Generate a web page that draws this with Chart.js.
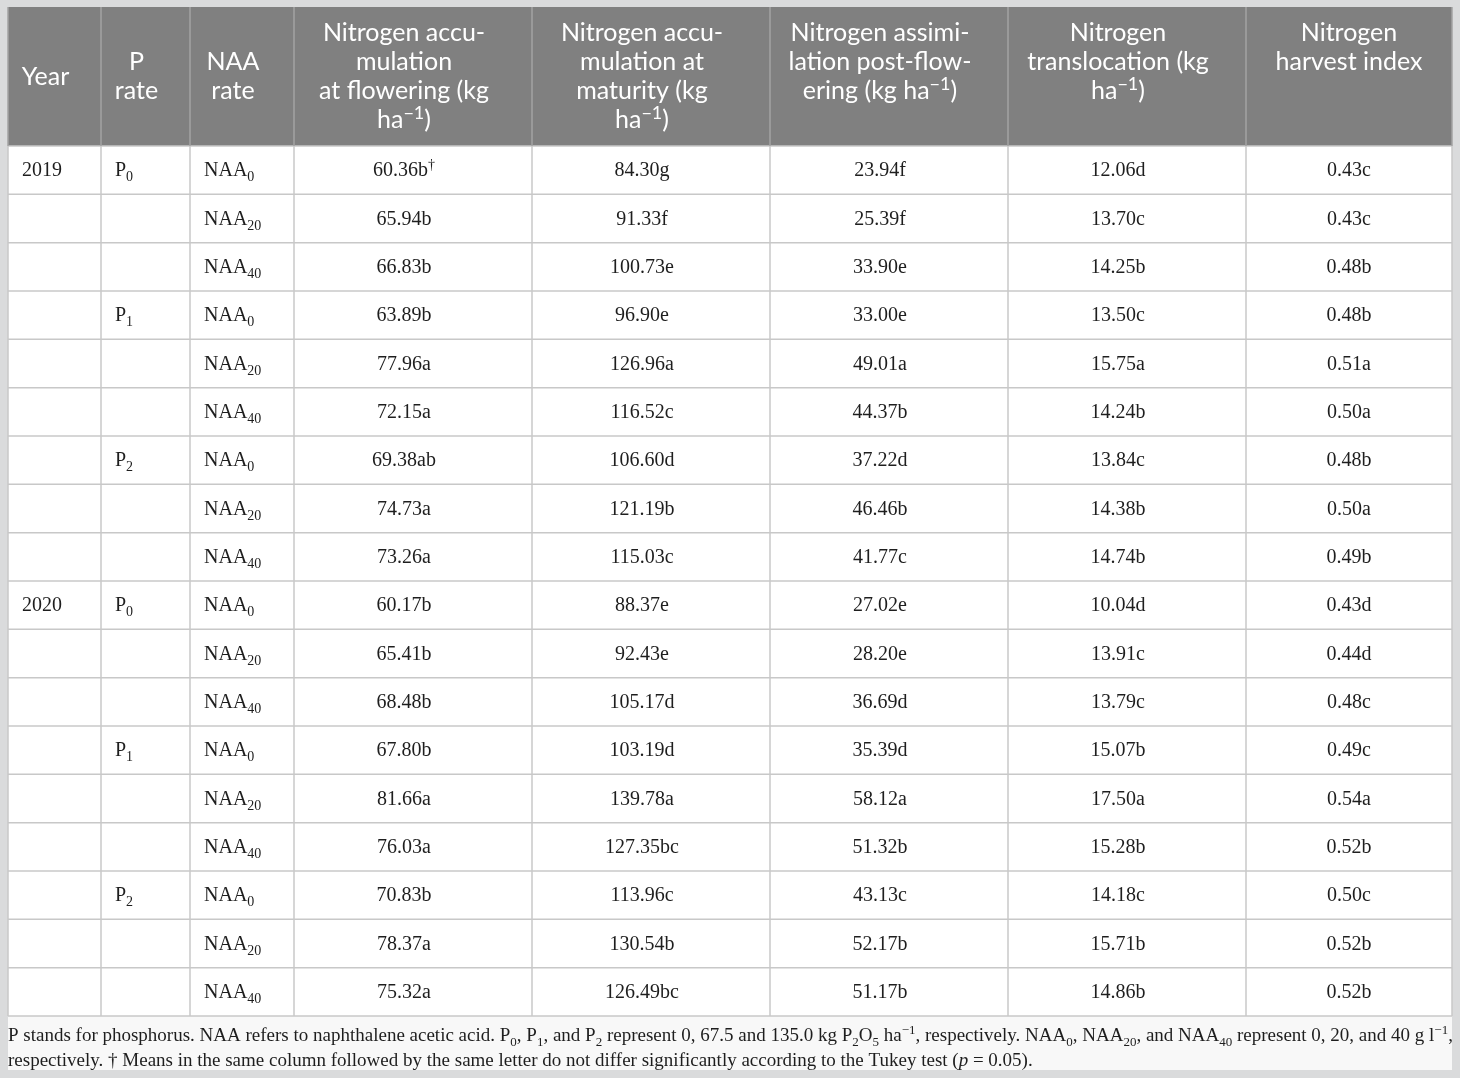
<!DOCTYPE html>
<html>
<head>
<meta charset="utf-8">
<script src="https://cdn.jsdelivr.net/npm/chart.js@4.4.1/dist/chart.umd.min.js"></script>
<style>
body { margin: 0; background: #dadbdc; }
#wrap { width: 1460px; height: 1078px; }
</style>
</head>
<body>
<div id="wrap"><canvas id="tbl" width="1460" height="1078"></canvas></div>
<script>
"use strict"

// row labels: every year has three P rates, every P rate has three NAA rates
let years = ["2019", "2020"];
let pRates = ["P_{0}", "P_{1}", "P_{2}"];
let naaRates = ["NAA_{0}", "NAA_{20}", "NAA_{40}"];

// column headings, one entry per printed line
let headings = [
    ["Year"],
    ["P", "rate"],
    ["NAA", "rate"],
    ["Nitrogen accu-", "mulation", "at flowering (kg", "ha^{\u22121})"],
    ["Nitrogen accu-", "mulation at", "maturity (kg", "ha^{\u22121})"],
    ["Nitrogen assimi-", "lation post-flow-", "ering (kg ha^{\u22121})"],
    ["Nitrogen", "translocation (kg", "ha^{\u22121})"],
    ["Nitrogen", "harvest index"]
];

// nitrogen accumulation at flowering (kg/ha)
let nFlowering = [60.36, 65.94, 66.83, 63.89, 77.96, 72.15, 69.38, 74.73, 73.26,
                  60.17, 65.41, 68.48, 67.80, 81.66, 76.03, 70.83, 78.37, 75.32];
let nFloweringSig = ["b^{\u2020}", "b", "b", "b", "a", "a", "ab", "a", "a",
                     "b", "b", "b", "b", "a", "a", "b", "a", "a"];

// nitrogen accumulation at maturity (kg/ha)
let nMaturity = [84.30, 91.33, 100.73, 96.90, 126.96, 116.52, 106.60, 121.19, 115.03,
                 88.37, 92.43, 105.17, 103.19, 139.78, 127.35, 113.96, 130.54, 126.49];
let nMaturitySig = ["g", "f", "e", "e", "a", "c", "d", "b", "c",
                    "e", "e", "d", "d", "a", "bc", "c", "b", "bc"];

// nitrogen assimilation post-flowering (kg/ha)
let nAssim = [23.94, 25.39, 33.90, 33.00, 49.01, 44.37, 37.22, 46.46, 41.77,
              27.02, 28.20, 36.69, 35.39, 58.12, 51.32, 43.13, 52.17, 51.17];
let nAssimSig = ["f", "f", "e", "e", "a", "b", "d", "b", "c",
                 "e", "e", "d", "d", "a", "b", "c", "b", "b"];

// nitrogen translocation (kg/ha)
let nTransloc = [12.06, 13.70, 14.25, 13.50, 15.75, 14.24, 13.84, 14.38, 14.74,
                 10.04, 13.91, 13.79, 15.07, 17.50, 15.28, 14.18, 15.71, 14.86];
let nTranslocSig = ["d", "c", "b", "c", "a", "b", "c", "b", "b",
                    "d", "c", "c", "b", "a", "b", "c", "b", "b"];

// nitrogen harvest index
let nhi = [0.43, 0.43, 0.48, 0.48, 0.51, 0.50, 0.48, 0.50, 0.49,
           0.43, 0.44, 0.48, 0.49, 0.54, 0.52, 0.50, 0.52, 0.52];
let nhiSig = ["c", "c", "b", "b", "a", "a", "b", "a", "b",
              "d", "d", "c", "c", "a", "b", "c", "b", "b"];

let footnotes = [
    "P stands for phosphorus. NAA refers to naphthalene acetic acid. P_{0}, P_{1}, and P_{2} represent 0, 67.5 and 135.0 kg P_{2}O_{5} ha^{\u22121}, respectively. NAA_{0}, NAA_{20}, and NAA_{40} represent 0, 20, and 40 g l^{\u22121},",
    "respectively. \u2020 Means in the same column followed by the same letter do not differ significantly according to the Tukey test (*{p} = 0.05)."
];

// layout
let colEdges = [0, 93, 182, 286, 524, 762, 1000, 1238, 1444];
let centerShift = [-9, -9, -9, -9, -9, -9, -9, 0];   // text sits a little left of the middle
let headerRows = 2.876;   // header height measured in body rows
let serif = "'Liberation Serif', 'Times New Roman', serif";
let sans = "Lato, 'Open Sans', sans-serif";

// build the table rows
let rowYear = [], rowP = [], rowNaa = [];
years.forEach(function (yr) {
    pRates.forEach(function (p, pi) {
        naaRates.forEach(function (n, ni) {
            rowYear.push(pi === 0 && ni === 0 ? yr : "");
            rowP.push(ni === 0 ? p : "");
            rowNaa.push(n);
        });
    });
});
let rowCount = rowNaa.length;

function cellStrings(nums, sig) {
    return nums.map(function (v, i) { return v.toFixed(2) + sig[i]; });
}

let columns = [
    { text: rowYear, align: "left" },
    { text: rowP, align: "left" },
    { text: rowNaa, align: "left" },
    { text: cellStrings(nFlowering, nFloweringSig), align: "center" },
    { text: cellStrings(nMaturity, nMaturitySig), align: "center" },
    { text: cellStrings(nAssim, nAssimSig), align: "center" },
    { text: cellStrings(nTransloc, nTranslocSig), align: "center" },
    { text: cellStrings(nhi, nhiSig), align: "center" }
];

// tiny markup: _{sub} ^{sup} *{italic}
function parseRich(str) {
    let segs = [], re = /([_^*])\{([^}]*)\}/g, last = 0, m;
    while ((m = re.exec(str))) {
        if (m.index > last) segs.push({ t: str.slice(last, m.index), k: "" });
        segs.push({ t: m[2], k: m[1] });
        last = re.lastIndex;
    }
    if (last < str.length) segs.push({ t: str.slice(last), k: "" });
    return segs;
}

function segFont(s, size, family) {
    let sz = (s.k === "_" || s.k === "^") ? Math.round(size * 0.7) : size;
    return (s.k === "*" ? "italic " : "") + sz + "px " + family;
}

function richWidth(ctx, segs, size, family) {
    let w = 0;
    segs.forEach(function (s) {
        ctx.font = segFont(s, size, family);
        w += ctx.measureText(s.t).width;
    });
    return w;
}

function drawRich(ctx, str, x, y, size, family, align, fitWidth) {
    let segs = parseRich(str);
    ctx.wordSpacing = "0px";
    let w = richWidth(ctx, segs, size, family);
    if (fitWidth && w < fitWidth) {
        let spaces = (str.match(/ /g) || []).length;
        ctx.wordSpacing = ((fitWidth - w) / spaces) + "px";
        w = fitWidth;
    }
    let cx = align === "center" ? x - w / 2 : x;
    segs.forEach(function (s) {
        ctx.font = segFont(s, size, family);
        let dy = s.k === "_" ? size * 0.26 : (s.k === "^" ? -size * 0.38 : 0);
        ctx.fillText(s.t, cx, y + dy);
        cx += ctx.measureText(s.t).width;
    });
    ctx.wordSpacing = "0px";
}

// one scatter dataset per column, each point sits in its cell
let datasets = columns.map(function (col, c) {
    let left = colEdges[c], right = colEdges[c + 1];
    let px = col.align === "left" ? left + 14 : (left + right) / 2 + centerShift[c];
    return {
        label: headings[c].join(" "),
        data: col.text.map(function (t, r) { return { x: px, y: r + 0.5 }; }),
        pointRadius: 0,
        cellText: col.text,
        cellAlign: col.align
    };
});

const tablePlugin = {
    id: "tableDraw",
    beforeDraw(chart) {
        const ctx = chart.ctx, a = chart.chartArea;
        const xs = chart.scales.x, ys = chart.scales.y;
        const headBottom = ys.getPixelForValue(0);
        ctx.save();
        ctx.fillStyle = "#dadbdc";
        ctx.fillRect(0, 0, chart.width, chart.height);
        ctx.fillStyle = "#f8f8f8";
        ctx.fillRect(a.left, a.bottom, a.right - a.left, 54);
        ctx.fillStyle = "#ffffff";
        ctx.fillRect(a.left, headBottom, a.right - a.left, a.bottom - headBottom);
        ctx.fillStyle = "#808080";
        ctx.fillRect(a.left, a.top, a.right - a.left, headBottom - a.top);

        ctx.lineWidth = 1.5;
        // row lines
        ctx.strokeStyle = "#c8c8c8";
        for (let r = 0; r <= rowCount; r++) {
            let py = ys.getPixelForValue(r);
            ctx.beginPath();
            ctx.moveTo(a.left, py);
            ctx.lineTo(a.right, py);
            ctx.stroke();
        }
        // column lines, lighter inside the header
        colEdges.forEach(function (e) {
            let px = xs.getPixelForValue(e);
            ctx.strokeStyle = "#a3a3a3";
            ctx.beginPath();
            ctx.moveTo(px, a.top);
            ctx.lineTo(px, headBottom);
            ctx.stroke();
            ctx.strokeStyle = "#c8c8c8";
            ctx.beginPath();
            ctx.moveTo(px, headBottom);
            ctx.lineTo(px, a.bottom);
            ctx.stroke();
        });
        ctx.restore();
    },
    afterDatasetsDraw(chart) {
        const ctx = chart.ctx, a = chart.chartArea;
        const xs = chart.scales.x, ys = chart.scales.y;
        const headMid = (a.top + ys.getPixelForValue(0)) / 2;
        ctx.save();
        ctx.textAlign = "left";
        ctx.textBaseline = "alphabetic";

        // header
        ctx.fillStyle = "#ffffff";
        headings.forEach(function (lines, c) {
            let cx = xs.getPixelForValue((colEdges[c] + colEdges[c + 1]) / 2 + centerShift[c]);
            lines.forEach(function (ln, i) {
                let mid = c < 3 ? headMid + (i - (lines.length - 1) / 2) * 29 : a.top + 26 + i * 29;
                drawRich(ctx, ln, cx, mid + 8, 25, sans, "center");
            });
        });

        // body cells
        ctx.fillStyle = "#1e1e1e";
        chart.data.datasets.forEach(function (ds, d) {
            chart.getDatasetMeta(d).data.forEach(function (pt, r) {
                let t = ds.cellText[r];
                if (t) drawRich(ctx, t, pt.x, pt.y + 6, 20, serif, ds.cellAlign);
            });
        });

        // footnote under the table
        drawRich(ctx, footnotes[0], a.left, a.bottom + 25, 19, serif, "left", a.right - a.left);
        drawRich(ctx, footnotes[1], a.left, a.bottom + 50, 19, serif, "left");
        ctx.restore();
    }
};

new Chart(document.getElementById("tbl"), {
    type: "scatter",
    data: { datasets: datasets },
    options: {
        responsive: false,
        devicePixelRatio: 1,
        animation: false,
        events: [],
        layout: { padding: { left: 8, right: 8, top: 7, bottom: 62 } },
        plugins: { legend: { display: false }, tooltip: { enabled: false } },
        scales: {
            x: { type: "linear", display: false, min: colEdges[0], max: colEdges[colEdges.length - 1] },
            y: { type: "linear", display: false, reverse: true, min: -headerRows, max: rowCount }
        }
    },
    plugins: [tablePlugin]
});
</script>
</body>
</html>
